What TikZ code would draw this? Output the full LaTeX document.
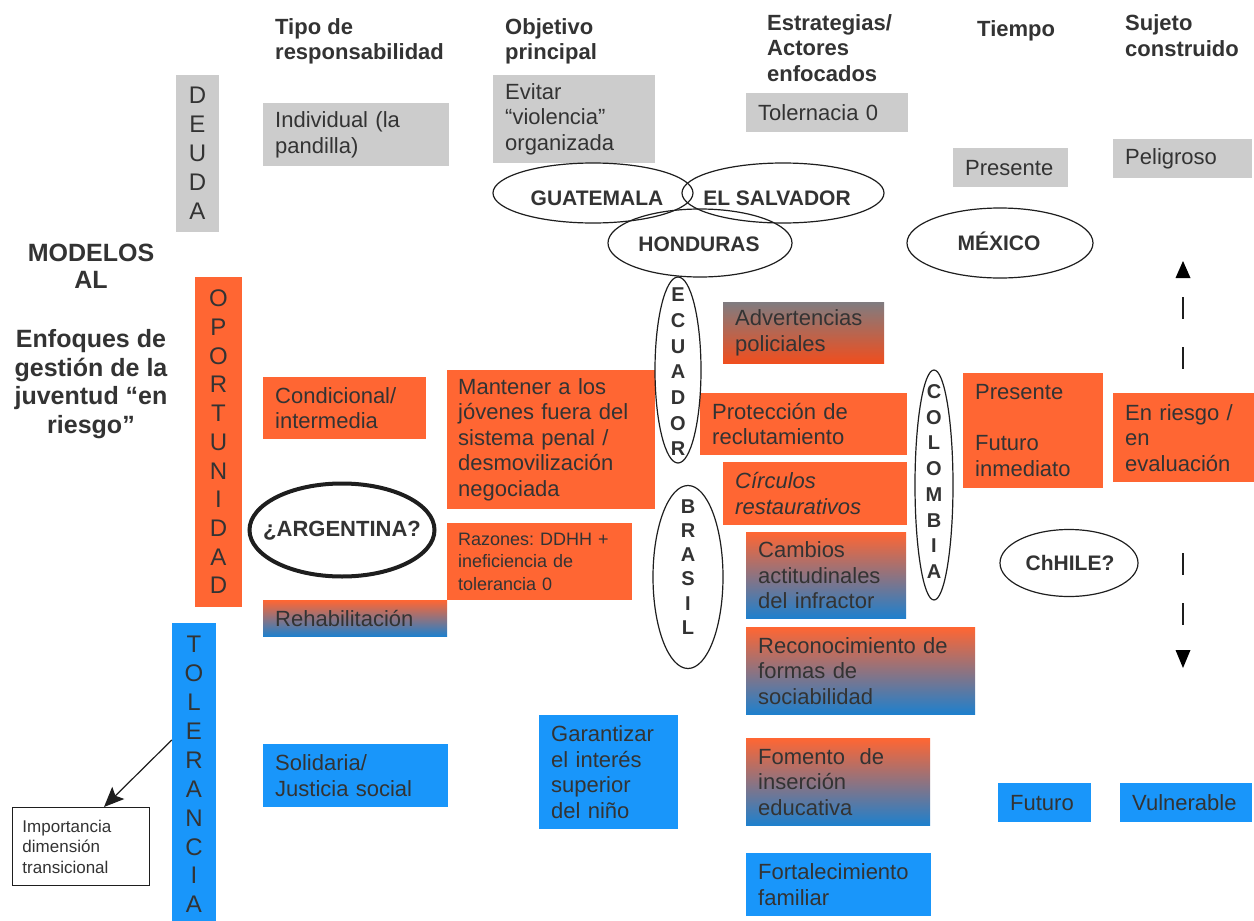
\documentclass[tikz,border=0pt]{standalone}
\usepackage{fontspec}
\setmainfont{Liberation Sans}
\usetikzlibrary{shapes.geometric,arrows.meta}
\hyphenpenalty=10000
\exhyphenpenalty=10000
\frenchspacing
\definecolor{txt}{RGB}{51,51,51}
\definecolor{gbox}{RGB}{204,204,204}
\definecolor{obox}{RGB}{255,102,51}
\definecolor{bbox}{RGB}{25,150,250}
\definecolor{bdark}{RGB}{30,128,205}
\definecolor{advtop}{RGB}{128,124,128}
\definecolor{advbot}{RGB}{240,78,30}
\definecolor{lin}{RGB}{30,30,30}
\tikzset{
  txtbase/.style={inner xsep=12pt, inner ysep=0pt, anchor=north west, align=left, text=txt, font=\fontsize{22}{25.5}\selectfont},
  graybox/.style={txtbase, fill=gbox},
  orangebox/.style={txtbase, fill=obox},
  bluebox/.style={txtbase, fill=bbox},
  mixbox/.style={txtbase, top color=obox, bottom color=bdark},
  hdr/.style={anchor=north west, inner sep=0pt, align=left, text=txt, font=\fontsize{22}{25.5}\selectfont\bfseries},
  ttl/.style={anchor=north, inner sep=0pt, align=center, text=txt},
  vbar/.style={inner sep=0pt, align=center, text=txt, font=\fontsize{24}{28.7}\selectfont},
  ell/.style={ellipse, draw=lin, line width=1.2pt, inner sep=0pt},
  etxt/.style={inner sep=0pt, text=txt, font=\fontsize{21}{25}\selectfont\bfseries},
  vtxt/.style={inner sep=0pt, align=center, text=txt, font=\fontsize{20}{25.7}\selectfont\bfseries},
  dashline/.style={draw=lin, line width=1.3pt, dash pattern=on 22pt off 28pt},
  tiphead/.style={fill=black}
}
\begin{document}
\begin{tikzpicture}[x=1pt,y=-1pt]
\fill[white] (0,0) rectangle (1254,921);
\useasboundingbox (0,0) rectangle (1254,921);

% headers
\node[hdr] (h1) at (275,18) {Tipo de\\responsabilidad};
\node[hdr] (h2) at (505,18) {Objetivo\\principal};
\node[hdr] (h3) at (767,14) {Estrategias/\\Actores\\enfocados};
\node[hdr] (h4) at (977,20.5) {Tiempo};
\node[hdr] (h5) at (1125,14.5) {Sujeto\\construido};

% left title
\node[ttl, font=\fontsize{25}{27}\selectfont\bfseries] (t1) at (91,244) {MODELOS\\AL};
\node[ttl, font=\fontsize{25}{28.5}\selectfont\bfseries] (t2) at (91,329.5) {Enfoques de\\gestión de la\\juventud “en\\riesgo”};

% vertical bars
\node[vbar, fill=gbox, minimum width=43pt, minimum height=157pt, font=\fontsize{24}{29}\selectfont] (deu) at (197.5,153.5) {D\\E\\U\\D\\A};
\node[vbar, fill=obox, minimum width=47pt, minimum height=330pt] (opo) at (218.5,442) {O\\P\\O\\R\\T\\U\\N\\I\\D\\A\\D};
\node[vbar, fill=bbox, minimum width=44pt, minimum height=303pt, font=\fontsize{24}{28.9}\selectfont] (tole) at (194,774.5) {T\\O\\L\\E\\R\\A\\N\\C\\I\\A};

% dashed double arrow (behind boxes)
\coordinate (dA1) at (1183,297);
\coordinate (dA2) at (1183,370);
\coordinate (dB1) at (1183,553);
\coordinate (dB2) at (1183,625);
\coordinate (upT) at (1183,261);
\coordinate (dnT) at (1183,668);
\draw[dashline] (dA1) -- (dA2);
\draw[dashline] (dB1) -- (dB2);
\fill[tiphead] (upT) -- ++(-7.5,17) -- ++(15,0) -- cycle;
\fill[tiphead] (dnT) -- ++(-7.5,-18) -- ++(15,0) -- cycle;

% gray boxes
\node[graybox, text width=162pt, minimum height=63pt] (ind) at (263,103) {Individual (la\\pandilla)};
\node[graybox, text width=138pt, minimum height=88pt] (evi) at (493,75) {Evitar\\“violencia”\\organizada};
\node[graybox, text width=138pt, minimum height=39pt] (tol0) at (746,93) {Tolernacia 0};
\node[graybox, text width=91pt, minimum height=39pt] (pres1) at (953,148) {Presente};
\node[graybox, text width=115pt, minimum height=39pt] (pel) at (1113,139) {Peligroso};

% orange boxes
\node[orangebox, text width=139pt, minimum height=62pt] (cond) at (263,377) {Condicional/\\intermedia};
\node[orangebox, inner xsep=11pt, text width=186pt, minimum height=139pt] (mant) at (447,370) {Mantener a los\\jóvenes fuera del\\sistema penal /\\desmovilización\\negociada};
\node[orangebox, text width=163pt, inner xsep=11pt, minimum height=77pt, font=\fontsize{18}{22.5}\selectfont] (raz) at (447,523) {Razones: DDHH +\\ineficiencia de\\tolerancia 0};
\node[orangebox, text width=183pt, minimum height=62pt] (prot) at (700,393) {Protección de\\reclutamiento};
\node[orangebox, text width=160pt, minimum height=63pt, font=\fontsize{22}{25.5}\selectfont\itshape] (circ) at (723,462) {Círculos\\restaurativos};
\node[orangebox, text width=116pt, minimum height=115pt] (pfut) at (963,373) {Presente\\[25.5pt]Futuro\\inmediato};
\node[orangebox, text width=117pt, minimum height=89pt] (enr) at (1113,393) {En riesgo /\\en\\evaluación};

% gradient boxes
\node[mixbox, text width=160pt, minimum height=36pt] (reh) at (263,600) {Rehabilitación};
\node[txtbase, top color=advtop, bottom color=advbot, text width=137pt, minimum height=61pt] (adv) at (723,302) {Advertencias\\policiales};
\node[mixbox, text width=136pt, minimum height=86pt] (camb) at (746,532) {Cambios\\actitudinales\\del infractor};
\node[mixbox, text width=205pt, minimum height=87pt] (reco) at (746,627) {Reconocimiento de\\formas de\\sociabilidad};
\node[mixbox, text width=160pt, minimum height=87pt] (fom) at (746,738) {Fomento~ de\\inserción\\educativa};

% blue boxes
\node[bluebox, text width=161pt, minimum height=63pt] (sol) at (263,744) {Solidaria/\\Justicia social};
\node[bluebox, text width=115pt, minimum height=114pt] (gar) at (539,715) {Garantizar\\el interés\\superior\\del niño};
\node[bluebox, text width=161pt, minimum height=63pt] (fort) at (746,853) {Fortalecimiento\\familiar};
\node[bluebox, text width=69pt, minimum height=39pt] (fut) at (998,783) {Futuro};
\node[bluebox, text width=108pt, minimum height=39pt] (vul) at (1120,783) {Vulnerable};

% importancia box
\node[txtbase, fill=white, draw=lin, line width=1pt, inner xsep=10pt, text width=117pt, minimum height=78pt, font=\fontsize{17}{20.5}\selectfont] (imp) at (12,807) {Importancia\\dimensión\\transicional};

% ellipses
\node[ell, minimum width=200pt, minimum height=60pt] (gua) at (593,193) {};
\node[ell, minimum width=202pt, minimum height=60pt] (els) at (783,193) {};
\node[ell, minimum width=184pt, minimum height=68pt] (hon) at (700,243) {};
\node[ell, minimum width=186pt, minimum height=70pt] (mex) at (1000,243) {};
\node[ell, minimum width=46pt, minimum height=186pt] (ecu) at (678,370) {};
\node[ell, minimum width=70pt, minimum height=183pt] (bra) at (688,577) {};
\node[ell, minimum width=38pt, minimum height=230pt] (col) at (934,485) {};
\node[ell, minimum width=138pt, minimum height=67pt] (chi) at (1069,563) {};
\node[ell, line width=4pt, minimum width=185pt, minimum height=93pt] (arg) at (342,530) {};

\node[etxt] (guaT) at (597,198) {GUATEMALA};
\node[etxt] (elsT) at (777,198) {EL SALVADOR};
\node[etxt] (honT) at (699,244) {HONDURAS};
\node[etxt] (mexT) at (999,241) {MÉXICO};
\node[etxt] (chiT) at (1070,563) {ChHILE?};
\node[etxt, font=\fontsize{22}{25}\selectfont\bfseries] (argT) at (342,531) {¿ARGENTINA?};
\node[vtxt] (ecuT) at (678,372) {E\\C\\U\\A\\D\\O\\R};
\node[vtxt, font=\fontsize{20}{24.2}\selectfont\bfseries] (braT) at (688,567) {B\\R\\A\\S\\I\\L};
\node[vtxt] (colT) at (934,481.5) {C\\O\\L\\O\\M\\B\\I\\A};

% arrow tolerancia -> importancia
\coordinate (arS) at (172,740);
\coordinate (arE) at (104,807);
\draw[draw=lin, line width=1.2pt, -{Stealth[length=20pt,width=17pt,inset=4pt]}] (tole.west |- arS) -- (imp.north -| arE);
\end{tikzpicture}
\end{document}
